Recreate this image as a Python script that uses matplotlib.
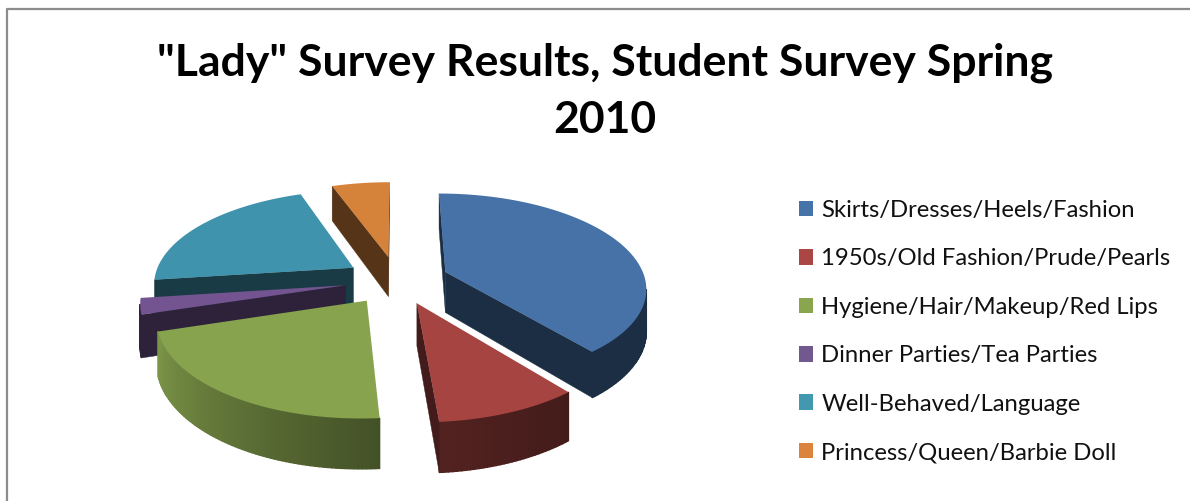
import numpy as np
import matplotlib
matplotlib.use('Agg')
import matplotlib.pyplot as plt
from matplotlib.patches import Patch
from matplotlib.colors import to_rgb

categories = ['Skirts/Dresses/Heels/Fashion', '1950s/Old Fashion/Prude/Pearls',
              'Hygiene/Hair/Makeup/Red Lips', 'Dinner Parties/Tea Parties',
              'Well-Behaved/Language', 'Princess/Queen/Barbie Doll']
percent = [39.2, 9.6, 21.4, 2.7, 21.6, 5.5]
colors = ['#4672a8', '#a54440', '#87a34e', '#735490', '#3f93ac', '#d5823a']
legend_colors = ['#4674a9', '#aa4643', '#89a54e', '#71588f', '#4198af', '#db843d']
title = '"Lady" Survey Results, Student Survey Spring\n2010'

# pie projection, in pixels
CX, CY = 397, 280
RX, RY = 200, 92.8
PERSP = 0.153
DEPTH = 41
EXPLODE = 0.26
# how dark the outer wall gets going round the pie
shade_angle = [100, 139, 176, 252, 252.5, 360]
shade_level = [0.40, 0.40, 0.50, 0.92, 0.40, 0.40]
CUT_SHADE = 0.40


def project(wx, wy, z=0):
    s = 1 / (1 + PERSP * wy)
    return CX + RX * wx * s, CY + (-RY * wy + z) * s


def dim(color, k):
    return tuple(c * k for c in to_rgb(color))


def quad_area(pts):
    x = np.array([p[0] for p in pts])
    y = np.array([p[1] for p in pts])
    return np.sum(x * np.roll(y, -1) - np.roll(x, -1) * y)


def draw_slice(ax, start, end, color):
    t0, t1 = np.radians(start), np.radians(end)
    mid = (t0 + t1) / 2
    ox, oy = EXPLODE * np.sin(mid), EXPLODE * np.cos(mid)
    th = np.linspace(t0, t1, max(int(end - start), 4))
    rim_x, rim_y = ox + np.sin(th), oy + np.cos(th)

    # outer wall, one strip per step so the shading can change
    for i in range(len(th) - 1):
        k = np.interp(np.degrees(th[i]), shade_angle, shade_level)
        pts = [project(rim_x[i], rim_y[i]), project(rim_x[i + 1], rim_y[i + 1]),
               project(rim_x[i + 1], rim_y[i + 1], DEPTH), project(rim_x[i], rim_y[i], DEPTH)]
        if quad_area(pts) < 0:
            ax.fill([p[0] for p in pts], [p[1] for p in pts], color=dim(color, k), lw=1)

    # cut faces, only the ones turned towards the viewer
    for t, sign in ((t0, -1), (t1, 1)):
        ex, ey = ox + np.sin(t), oy + np.cos(t)
        pts = [project(ox, oy), project(ex, ey), project(ex, ey, DEPTH), project(ox, oy, DEPTH)]
        if quad_area(pts) * sign > 0:
            ax.fill([p[0] for p in pts], [p[1] for p in pts],
                    color=dim(color, CUT_SHADE), lw=0.3)

    # top
    tx, ty = project(np.r_[ox, rim_x], np.r_[oy, rim_y])
    ax.fill(tx, ty, color=color, lw=0)


fig = plt.figure(figsize=(11.9, 5.01), dpi=100)
ax = fig.add_axes([0, 0, 1, 1])
ax.set_xlim(0, 1190)
ax.set_ylim(501, 0)
ax.axis('off')

# chart area edge
ax.plot([7, 7, 1190], [501, 9, 9], color='#8c8c8c', lw=1.6)

edges = np.cumsum([0] + percent) / sum(percent) * 360
mids = (edges[:-1] + edges[1:]) / 2
# back slices first
for i in np.argsort(-np.cos(np.radians(mids))):
    draw_slice(ax, edges[i], edges[i + 1], colors[i])

ax.text(605, 91, title, ha='center', va='center', fontsize=32, fontweight='bold',
        family='Lato', linespacing=1.5, color='black')

handles = [Patch(facecolor=c, edgecolor='none') for c in legend_colors]
leg = fig.legend(handles, categories, loc='upper left', bbox_to_anchor=(799 / 1190, 1 - 200 / 501),
                 frameon=False, prop={'family': 'Lato', 'size': 17.2},
                 handlelength=0.586, handleheight=0.63, handletextpad=0.35,
                 labelspacing=1.147, borderpad=0, borderaxespad=0)
for t in leg.get_texts():
    t.set_color('#111111')

plt.savefig('out.png', dpi=100)
